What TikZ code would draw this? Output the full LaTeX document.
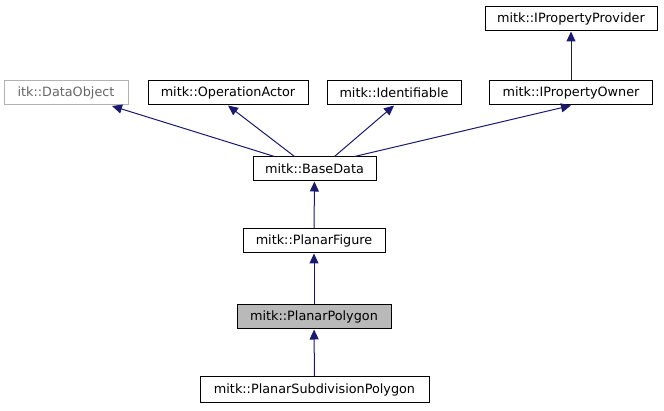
\documentclass[tikz,border=0pt]{standalone}
\usepackage{fontspec}
\setmainfont{DejaVu Sans}
\usetikzlibrary{arrows.meta}
\definecolor{navy}{HTML}{191970}
\begin{document}
\begin{tikzpicture}[x=1pt,y=-1pt,line width=1pt,
  cls/.style={draw=black,fill=white,inner sep=0pt,minimum height=24pt,font=\fontsize{12.8}{14}\selectfont},
  ext/.style={cls,draw=gray!60,text=gray!80!black},
  inh/.style={draw=navy,-{Triangle[length=10pt,width=9pt]}}]
\useasboundingbox (0,0) rectangle (664,411);
\node[cls,minimum width=172pt] (ipp) at (571,19) {mitk::IPropertyProvider};
\node[ext,minimum width=124pt] (dobj) at (66,93) {itk::DataObject};
\node[cls,minimum width=160pt] (oa) at (228,93) {mitk::OperationActor};
\node[cls,minimum width=134pt] (ident) at (394,93) {mitk::Identifiable};
\node[cls,minimum width=163pt] (ipo) at (571,93) {mitk::IPropertyOwner};
\node[cls,minimum width=123pt] (bd) at (314.5,169) {mitk::BaseData};
\node[cls,minimum width=142pt] (pf) at (314,241) {mitk::PlanarFigure};
\node[cls,minimum width=154pt,fill=gray!55] (pp) at (314,317) {mitk::PlanarPolygon};
\node[cls,minimum width=229pt,minimum height=26pt] (psp) at (314.5,390) {mitk::PlanarSubdivisionPolygon};
\draw[inh] (ipo) -- (ipp);
\draw[inh] (bd.north) ++(-40,0) coordinate (b1) (b1) -- (112,106);
\draw[inh] (bd.north) ++(-20,0) coordinate (b2) (b2) -- (oa.south);
\draw[inh] (bd.north) ++(20,0) coordinate (b3) (b3) -- (ident.south);
\draw[inh] (bd.north) ++(40,0) coordinate (b4) (b4) -- (ipo.south);
\draw[inh] (pf) -- (bd);
\draw[inh] (pp) -- (pf);
\draw[inh] (psp) -- (pp);
\end{tikzpicture}
\end{document}
